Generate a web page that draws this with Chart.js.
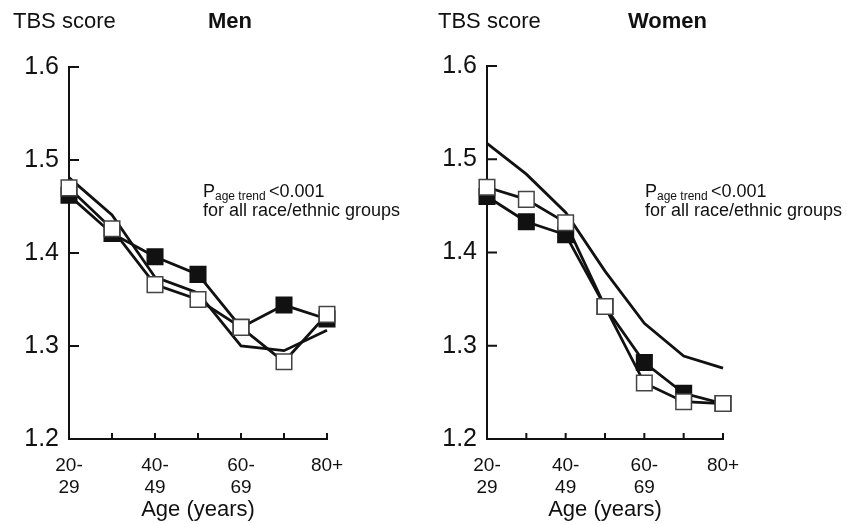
<!DOCTYPE html>
<html>
<head>
<meta charset="utf-8">
<script src="https://cdn.jsdelivr.net/npm/chart.js@4"></script>
<style>
  body { margin: 0; background: #fff; }
  .panel { position: absolute; top: 0; height: 524px; }
  #menBox { left: 0; width: 430px; }
  #womenBox { left: 430px; width: 428px; }
</style>
</head>
<body>
<div class="panel" id="menBox"><canvas id="menChart"></canvas></div>
<div class="panel" id="womenBox"><canvas id="womenChart"></canvas></div>
<script>
// age groups on the x axis
const ageGroups = ['20-29', '30-39', '40-49', '50-59', '60-69', '70-79', '80+'];
const ageTickLabels = [['20-', '29'], '', ['40-', '49'], '', ['60-', '69'], '', '80+'];
const scoreTicks = [1.2, 1.3, 1.4, 1.5, 1.6];

// Men - TBS score by age
const menFilled = [1.462, 1.421, 1.396, 1.377, 1.320, 1.344, 1.329];
const menOpen   = [1.470, 1.426, 1.366, 1.350, 1.320, 1.283, 1.334];
const menPlain  = [1.481, 1.441, 1.374, 1.357, 1.300, 1.295, 1.317];

// Women - TBS score by age
const womenFilled = [1.460, 1.433, 1.419, 1.342, 1.282, 1.249, 1.238];
const womenOpen   = [1.470, 1.457, 1.432, 1.342, 1.260, 1.240, 1.238];
const womenPlain  = [1.517, 1.484, 1.443, 1.380, 1.324, 1.289, 1.276];

const FONT = "'Liberation Sans', Arial, sans-serif";
const INK = '#111';

// small tick marks drawn inside the axes
const tickMarks = {
    id: 'tickMarks',
    beforeDatasetsDraw(chart) {
        const {ctx, scales: {x, y}} = chart;
        ctx.save();
        ctx.strokeStyle = INK;
        ctx.lineWidth = 2;
        ctx.beginPath();
        y.ticks.forEach((t, i) => {
            if (i === 0) return;
            const py = y.getPixelForTick(i);
            ctx.moveTo(x.left, py);
            ctx.lineTo(x.left + 10, py);
        });
        x.ticks.forEach((t, i) => {
            if (i === 0) return;
            const px = x.getPixelForTick(i);
            ctx.moveTo(px, y.bottom);
            ctx.lineTo(px, y.bottom - 6);
        });
        ctx.stroke();
        ctx.restore();
    }
};

// headers and p-value note
const panelText = {
    id: 'panelText',
    afterDraw(chart, args, opts) {
        const ctx = chart.ctx;
        ctx.save();
        ctx.fillStyle = INK;
        ctx.textBaseline = 'alphabetic';
        ctx.textAlign = 'left';
        ctx.font = '22px ' + FONT;
        ctx.fillText('TBS score', opts.yLabelX, 28);
        ctx.font = 'bold 22px ' + FONT;
        ctx.fillText(opts.title, opts.titleX, 28);

        let x = opts.noteX;
        ctx.font = '18px ' + FONT;
        ctx.fillText('P', x, 197);
        x += ctx.measureText('P').width;
        ctx.font = '12px ' + FONT;
        ctx.fillText('age trend', x, 200);
        x += ctx.measureText('age trend ').width;
        ctx.font = '18px ' + FONT;
        ctx.fillText('<0.001', x, 197);
        ctx.fillText('for all race/ethnic groups', opts.noteX, 216);
        ctx.restore();
    }
};

function lineSet(values, fill, radius) {
    return {
        data: values,
        borderColor: INK,
        borderWidth: 2.8,
        tension: 0,
        pointStyle: 'rect',
        pointRadius: radius,
        pointHoverRadius: radius,
        pointBackgroundColor: fill,
        pointBorderColor: fill === '#fff' ? '#444' : INK,
        pointBorderWidth: 1.5
    };
}

function createPanel(canvasId, title, open, filled, plain, geo) {
    const ctx = document.getElementById(canvasId).getContext('2d');
    return new Chart(ctx, {
        type: 'line',
        data: {
            labels: ageGroups,
            datasets: [
                lineSet(open, '#fff', 11),
                lineSet(filled, INK, 11),
                lineSet(plain, INK, 0)
            ]
        },
        options: {
            responsive: true,
            maintainAspectRatio: false,
            animation: false,
            events: [],
            layout: {
                padding: {top: geo.top, right: geo.right, bottom: 0, left: 0}
            },
            plugins: {
                legend: {display: false},
                tooltip: {enabled: false},
                panelText: {title: title, yLabelX: geo.yLabelX, titleX: geo.titleX, noteX: geo.noteX}
            },
            scales: {
                x: {
                    offset: false,
                    grid: {display: false},
                    border: {display: true, color: INK, width: 2},
                    ticks: {
                        autoSkip: false,
                        maxRotation: 0,
                        padding: 8,
                        color: INK,
                        font: {family: FONT, size: 19, lineHeight: 1.15},
                        callback: (v, i) => ageTickLabels[i]
                    },
                    title: {
                        display: true,
                        text: 'Age (years)',
                        color: INK,
                        font: {family: FONT, size: 22},
                        padding: {top: 0, bottom: 1}
                    },
                    afterFit: s => { s.height = 85; }
                },
                y: {
                    min: 1.2,
                    max: 1.6,
                    grid: {display: false},
                    border: {display: true, color: INK, width: 2},
                    afterBuildTicks: s => { s.ticks = scoreTicks.map(v => ({value: v})); },
                    ticks: {
                        padding: 2,
                        color: INK,
                        font: {family: FONT, size: 25},
                        callback: v => v.toFixed(1)
                    },
                    afterFit: s => { s.width = geo.axisX; }
                }
            }
        },
        plugins: [tickMarks, panelText]
    });
}

createPanel('menChart', 'Men', menOpen, menFilled, menPlain,
    {top: 67, right: 103, axisX: 69, yLabelX: 13, titleX: 208, noteX: 203});
createPanel('womenChart', 'Women', womenOpen, womenFilled, womenPlain,
    {top: 66, right: 135, axisX: 57, yLabelX: 8, titleX: 198, noteX: 215});
</script>
</body>
</html>
